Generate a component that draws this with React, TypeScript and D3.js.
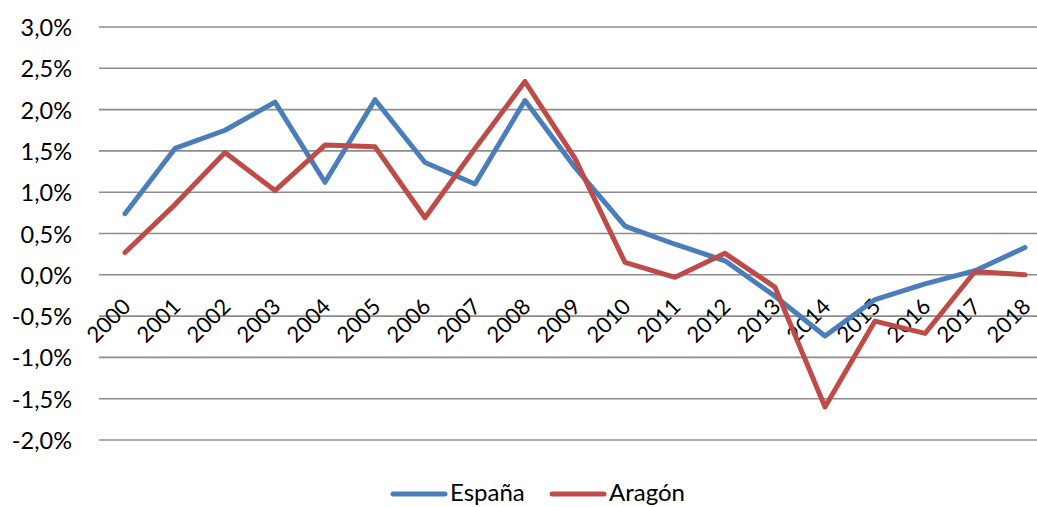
import { scaleLinear, scalePoint, line } from "d3";

const years = ["2000", "2001", "2002", "2003", "2004", "2005", "2006", "2007", "2008", "2009",
    "2010", "2011", "2012", "2013", "2014", "2015", "2016", "2017", "2018"];
const espana = [0.74, 1.53, 1.75, 2.09, 1.12, 2.12, 1.36, 1.1, 2.11, 1.3,
    0.59, 0.37, 0.17, -0.26, -0.74, -0.3, -0.11, 0.05, 0.33];
const aragon = [0.27, 0.85, 1.48, 1.02, 1.57, 1.55, 0.69, 1.53, 2.34, 1.41,
    0.15, -0.03, 0.26, -0.15, -1.6, -0.56, -0.71, 0.04, 0.0];
const yTicks = [3, 2.5, 2, 1.5, 1, 0.5, 0, -0.5, -1, -1.5, -2];

const series = [
    { name: "España", values: espana, color: "#4A7EBB" },
    { name: "Aragón", values: aragon, color: "#BE4B48" },
];

const W = 1037;
const H = 507;
const font = "Lato, 'Noto Sans', sans-serif";

export default function App() {
    const x = scalePoint<string>().domain(years).range([125, 1025]);
    const y = scaleLinear().domain([-2, 3]).range([440, 27]);
    const fmt = (v: number) => v.toFixed(1).replace(".", ",") + "%";

    const path = line<number>()
        .x((_, i) => x(years[i]) ?? 0)
        .y((d) => y(d));

    return (
        <svg
            width={W}
            height={H}
            style={{ position: "absolute", left: 0, top: 0, background: "#fff" }}
            fontFamily={font}
        >
            {/* grid + y labels */}
            {yTicks.map((t) => (
                <g key={t}>
                    <line x1={99} x2={W} y1={y(t)} y2={y(t)} stroke="#8c8c8c" strokeWidth={1.6} />
                    <text x={72} y={y(t)} textAnchor="end" dominantBaseline="central" fontSize={23.5} fill="#000">
                        {fmt(t)}
                    </text>
                </g>
            ))}

            {/* year labels, rotated */}
            {years.map((yr) => {
                const px = (x(yr) ?? 0) + 7;
                const py = 308;
                return (
                    <text
                        key={yr}
                        x={px}
                        y={py}
                        textAnchor="end"
                        fontSize={22}
                        fill="#000"
                        transform={`rotate(-45 ${px} ${py})`}
                    >
                        {yr}
                    </text>
                );
            })}

            {/* lines */}
            {series.map((s) => (
                <path
                    key={s.name}
                    d={path(s.values) ?? ""}
                    fill="none"
                    stroke={s.color}
                    strokeWidth={5}
                    strokeLinejoin="round"
                    strokeLinecap="round"
                />
            ))}

            {/* legend */}
            {series.map((s, i) => {
                const lx = 393 + i * 159;
                return (
                    <g key={s.name}>
                        <line x1={lx} x2={lx + 52} y1={494} y2={494} stroke={s.color} strokeWidth={5} strokeLinecap="round" />
                        <text x={lx + 57} y={501} fontSize={24} fill="#000">
                            {s.name}
                        </text>
                    </g>
                );
            })}
        </svg>
    );
}
